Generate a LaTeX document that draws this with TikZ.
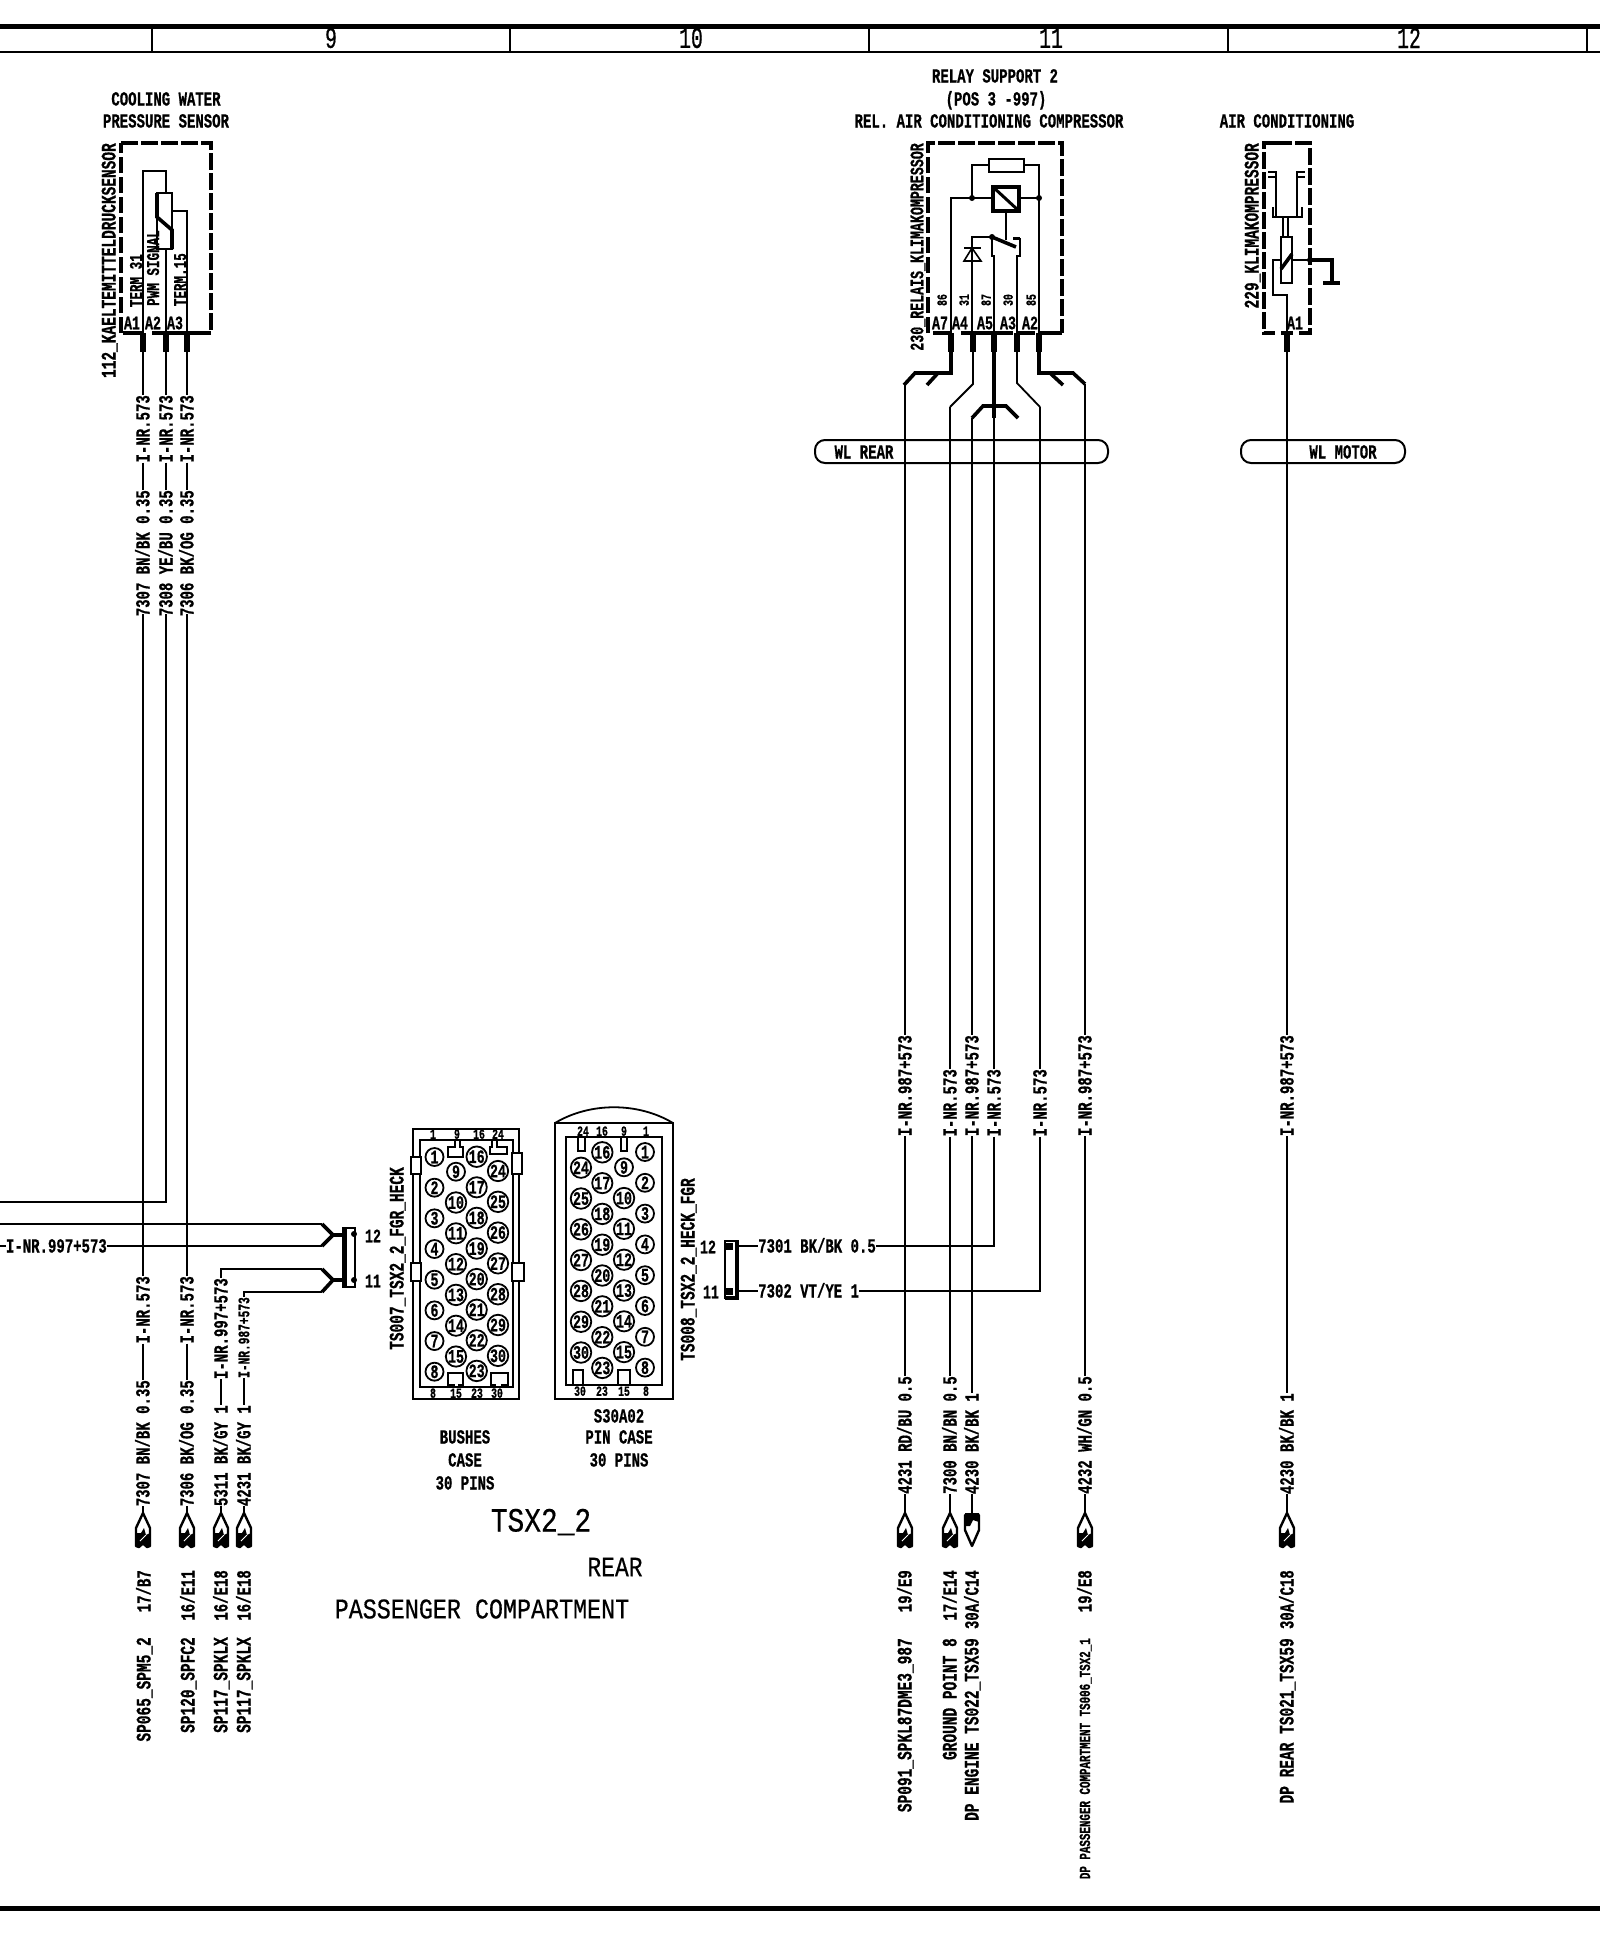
\documentclass[tikz,border=0pt]{standalone}
\usepackage{fontspec}
\usetikzlibrary{calc}
\newfontfamily\fb{Liberation Mono}[FakeStretch=0.70,BoldFeatures={FakeBold=0.7}]
\newfontfamily\ft{Liberation Mono}[FakeStretch=0.66,FakeBold=0.6]
\newfontfamily\ftw{Liberation Mono}[FakeStretch=0.82,FakeBold=0.4]
\newcommand\fz[1]{\fontsize{#1}{#1}\selectfont}
\tikzset{
 W/.style={line width=1.8pt,line join=miter},
 TH/.style={line width=3.6pt,line join=miter},
 PN/.style={line width=5.5pt},
 FR/.style={line width=3.6pt,dash pattern=on 16.5pt off 3.5pt},
 T/.style={font=\fb\bfseries\fz{20},inner sep=0pt,text height=13pt,text depth=0pt},
 Ta/.style={font=\fb\bfseries\fz{19},inner sep=0pt,text height=12.5pt,text depth=0pt},
 Ts/.style={font=\fb\bfseries\fz{18},inner sep=0pt,text height=12pt,text depth=0pt},
 Tn/.style={font=\fb\bfseries\fz{14},inner sep=0pt,text height=9.5pt,text depth=0pt},
 R/.style={T,rotate=90,anchor=east},
 Rl/.style={font=\fb\bfseries\fz{20.7},inner sep=0pt,text height=13pt,text depth=0pt,rotate=90,anchor=east},
 Rs/.style={Ts,rotate=90,anchor=east},
 Rn/.style={Tn,rotate=90},
 Rv/.style={font=\fb\bfseries\fz{16},inner sep=0pt,text height=10.5pt,text depth=0pt,rotate=90,anchor=east},
 Rd/.style={font=\fb\bfseries\fz{15.5},inner sep=0pt,text height=10pt,text depth=0pt,rotate=90,anchor=east},
 H/.style={T,anchor=west},
 CN/.style={font=\ft\fz{30},inner sep=0pt},
 PC/.style={draw,circle,line width=1.8pt,minimum size=18pt,inner sep=0pt,font=\fb\bfseries\fz{19}},
}
\newcommand\VW[8]{%
 \coordinate (#1s) at (#2,#3); \coordinate (#1e) at (#2,#8);
 \node[R] (#1a) at (#2,#4) {#5};
 \node[R] (#1b) at (#2,#6) {#7};
 \draw[W] (#1s)--(#1a.east) (#1a.west)--(#1b.east) (#1b.west)--(#1e);}
\newcommand\TU[2]{\begin{scope}[shift={(#2,0)}]
 \coordinate (#1) at (0,1513);
 \draw[line width=2.4pt,line join=round] (0,1513)--(7,1528)--(7,1546)--(4,1547)--(0,1543)--(-4,1547)--(-7,1546)--(-7,1528)--cycle;
 \fill (-7,1533)--(-2,1533)--(1,1528)--(3,1535)--(7,1533)--(7,1546)--(4,1548)--(0,1545)--(-4,1548)--(-7,1546)--cycle;
 \draw[white,line width=1pt] (-3,1541)--(3,1535);
 \end{scope}}
\newcommand\TD[2]{\begin{scope}[shift={(#2,0)}]
 \coordinate (#1) at (0,1513);
 \draw[line width=2.4pt,line join=round] (0,1546)--(7,1530)--(7,1515)--(-7,1515)--(-7,1530)--cycle;
 \fill (-7,1513)--(7,1513)--(7,1522)--(1,1520)--(-2,1526)--(-7,1526)--cycle;
 \end{scope}}
\begin{document}
\begin{tikzpicture}[x=1pt,y=-1pt]
\useasboundingbox (0,0) rectangle (1600,1936);
%% frame
\draw[line width=5pt] (0,26)--(1600,26);
\draw[W] (0,52)--(1600,52);
\foreach \xx in {152,510,869,1228,1587}{\draw[W] (\xx,26)--(\xx,52);}
\node[CN] (c9) at (331,38) {9};
\node[CN] (c10) at (691,38) {10};
\node[CN] (c11) at (1051,38) {11};
\node[CN] (c12) at (1409,38) {12};
\draw[line width=5pt] (0,1908)--(1600,1908);

%% cooling water sensor
\node[T] (s1t1) at (166,99) {COOLING WATER};
\node[T] (s1t2) at (166,121) {PRESSURE SENSOR};
\draw[FR] (121,143)--(211,143)--(211,333)--(205,333);
\draw[FR] (121,333)--(121,143);
\draw[TH] (123,333)--(144,333) (152,333)--(205,333);
\node[Rl] (s1n) at (109,143) {112\_KAELTEMITTELDRUCKSENSOR};
\node[Rs] (s1a) at (136,254) {TERM 31};
\node[Rs] (s1b) at (153,230) {PWM SIGNAL};
\node[Rs] (s1c) at (180,253) {TERM.15};
\node[Ta] (s1A1) at (132,323) {A1};
\node[Ta] (s1A2) at (153,323) {A2};
\node[Ta] (s1A3) at (175,323) {A3};
\draw[W] (143,333)--(143,171)--(166,171)--(166,193);
\draw[W] (157,193) rectangle (172,249);
\draw[TH] (157,193)--(157,217)--(172,230)--(172,249);
\draw[W] (166,249)--(166,333);
\draw[W] (172,211)--(187,211)--(187,333);
\foreach \xx in {143,166,187}{\draw[PN] (\xx,333)--(\xx,352);}
\VW{a1}{143}{352}{395}{I-NR.573}{490}{7307 BN/BK 0.35}{614}
\VW{b1}{166}{352}{395}{I-NR.573}{490}{7308 YE/BU 0.35}{614}
\VW{c1}{187}{352}{395}{I-NR.573}{490}{7306 BK/OG 0.35}{614}
\VW{a2}{143}{614}{1276}{I-NR.573}{1380}{7307 BN/BK 0.35}{1513}
\VW{c2}{187}{614}{1276}{I-NR.573}{1380}{7306 BK/OG 0.35}{1513}
\coordinate (b2) at (0,1202);
\draw[W] (b1e)--(166,1202)--(b2);

%% connector TS007 wiring
\coordinate (k12) at (343,1235);
\coordinate (k11) at (343,1280);
\node[T,anchor=east] (w997) at (107,1246) {I-NR.997+573};
\coordinate (w0a) at (0,1224);
\coordinate (w0b) at (0,1246);
\draw[W] (w0a)--(322,1224);
\draw[W] (w0b)--(w997.west) (w997.east)--(322,1246);
\draw[TH] (322,1224)--(333,1235)--(322,1246);
\draw[TH] (333,1235)--(k12);
\draw[TH] (322,1269)--(333,1280)--(322,1292);
\draw[TH] (333,1280)--(k11);
\node[R] (d1) at (221,1278) {I-NR.997+573};
\node[Rv] (e1) at (244,1297) {I-NR.987+573};
\node[R] (d2) at (221,1405) {5311 BK/GY 1};
\node[R] (e2) at (244,1405) {4231 BK/GY 1};
\coordinate (dt) at (221,1513);
\coordinate (et) at (244,1513);
\draw[W] (322,1269)--(221,1269)--(d1.east) (d1.west)--(d2.east) (d2.west)--(dt);
\draw[W] (322,1292)--(244,1292)--(e1.east) (e1.west)--(e2.east) (e2.west)--(et);
\draw[W] (343,1228) rectangle (355,1287);
\draw[line width=4.5pt] (345,1228)--(345,1287);
\fill (354,1234) circle (3pt) (354,1280) circle (3pt);
\node[Ta] (n12a) at (373,1236) {12};
\node[Ta] (n11a) at (373,1281) {11};

%% terminals lower left
\TU{t1}{143}\TU{t2}{187}\TU{t3}{221}\TU{t4}{244}
\node[R] (l1a) at (144,1570) {17/B7};
\node[Rl] (l1b) at (144,1637) {SP065\_SPM5\_2};
\node[R] (l2a) at (188,1570) {16/E11};
\node[Rl] (l2b) at (188,1637) {SP120\_SPFC2};
\node[R] (l3a) at (221,1570) {16/E18};
\node[Rl] (l3b) at (221,1637) {SP117\_SPKLX};
\node[R] (l4a) at (244,1570) {16/E18};
\node[Rl] (l4b) at (244,1637) {SP117\_SPKLX};

%% TS007 connector
\node[Rl] (ts7) at (397,1167) {TS007\_TSX2\_2\_FGR\_HECK};
\begin{scope}[line width=1.8pt]
\draw (413,1129) rectangle (519,1399);
\draw (420,1140) rectangle (513,1387);
\draw[fill=white] (411,1157) rectangle (421,1174);
\draw[fill=white] (411,1263) rectangle (421,1281);
\draw[fill=white] (512,1153) rectangle (522,1174);
\draw[fill=white] (512,1263) rectangle (524,1281);
\draw (455,1140)--(455,1147)--(448,1147)--(448,1157)--(463,1157)--(463,1147)--(460,1147)--(460,1140);
\draw (492,1140)--(492,1147)--(490,1147)--(490,1154)--(507,1154)--(507,1147)--(497,1147)--(497,1140);
\draw (454,1387)--(454,1385)--(448,1385)--(448,1373)--(463,1373)--(463,1385)--(459,1385)--(459,1387);
\draw (495,1387)--(495,1385)--(491,1385)--(491,1373)--(508,1373)--(508,1385)--(502,1385)--(502,1387);
\end{scope}
\foreach \n [count=\i from 0] in {1,...,8}{\node[PC] (a\n) at (434.5,{1157+30.67*\i}) {\n};}
\foreach \n [count=\i from 0] in {9,...,15}{\node[PC] (a\n) at (456,{1171.7+30.8*\i}) {\n};}
\foreach \n [count=\i from 0] in {16,...,23}{\node[PC] (a\n) at (476.7,{1156.7+30.6*\i}) {\n};}
\foreach \n [count=\i from 0] in {24,...,30}{\node[PC] (a\n) at (498,{1171+30.8*\i}) {\n};}
\node[Tn] (ta1) at (433,1134) {1};
\node[Tn] (ta9) at (457,1134) {9};
\node[Tn] (ta16) at (479,1134) {16};
\node[Tn] (ta24) at (498,1134) {24};
\node[Tn] (ba8) at (433,1393) {8};
\node[Tn] (ba15) at (456,1393) {15};
\node[Tn] (ba23) at (477,1393) {23};
\node[Tn] (ba30) at (497,1393) {30};
\node[T] (bu1) at (465,1437) {BUSHES};
\node[T] (bu2) at (465,1460) {CASE};
\node[T] (bu3) at (465,1483) {30 PINS};

%% TS008 connector
\node[Rl] (ts8) at (688,1178) {TS008\_TSX2\_2\_HECK\_FGR};
\begin{scope}[line width=1.8pt]
\draw (555,1123) rectangle (673,1399);
\draw (555,1123) .. controls (590,1102) and (638,1102) .. (673,1123);
\draw (566,1137) rectangle (662,1385);
\draw (578,1137)--(578,1151)--(585,1151)--(585,1137);
\draw (621,1137)--(621,1151)--(627,1151)--(627,1137);
\draw (573,1385)--(573,1370)--(583,1370)--(583,1385);
\draw (618,1385)--(618,1370)--(630,1370)--(630,1385);
\end{scope}
\foreach \n [count=\i from 0] in {1,...,8}{\node[PC] (b\n) at (645,{1152+30.8*\i}) {\n};}
\foreach \n [count=\i from 0] in {9,...,15}{\node[PC] (b\n) at (624,{1167.3+30.8*\i}) {\n};}
\foreach \n [count=\i from 0] in {16,...,23}{\node[PC] (b\n) at (602.3,{1152.3+30.8*\i}) {\n};}
\foreach \n [count=\i from 0] in {24,...,30}{\node[PC] (b\n) at (581,{1167.7+30.8*\i}) {\n};}
\node[Tn] (tb24) at (583,1131) {24};
\node[Tn] (tb16) at (602,1131) {16};
\node[Tn] (tb9) at (624,1131) {9};
\node[Tn] (tb1) at (646,1131) {1};
\node[Tn] (bb30) at (580,1391) {30};
\node[Tn] (bb23) at (602,1391) {23};
\node[Tn] (bb15) at (624,1391) {15};
\node[Tn] (bb8) at (646,1391) {8};
\node[T] (pi0) at (619,1416) {S30A02};
\node[T] (pi1) at (619,1437) {PIN CASE};
\node[T] (pi2) at (619,1460) {30 PINS};
\node[font=\ftw\fz{34},inner sep=0pt] (tsx) at (541,1522) {TSX2\_2};
\node[font=\ftw\fz{28},inner sep=0pt] (rear) at (615,1567) {REAR};
\node[font=\ftw\fz{28.5},inner sep=0pt] (pass) at (482,1609) {PASSENGER COMPARTMENT};

%% connector right of TS008
\node[Ta] (n12b) at (708,1247) {12};
\node[Ta] (n11b) at (711,1292) {11};
\draw[W] (725,1241) rectangle (738,1298);
\draw[line width=3.6pt] (737,1241)--(737,1298)--(725,1298);
\fill (725,1243) rectangle (733,1250);
\fill (725,1288) rectangle (733,1295);
\node[H] (w7301) at (758,1246) {7301 BK/BK 0.5};
\node[H] (w7302) at (758,1291) {7302 VT/YE 1};
\draw[W] (738,1246)--(w7301.west) (738,1291)--(w7302.west);

%% relay
\node[T] (r1) at (995,76) {RELAY SUPPORT 2};
\node[T] (r2) at (996,99) {(POS 3 -997)};
\node[T] (r3) at (989,121) {REL. AIR CONDITIONING COMPRESSOR};
\draw[FR] (928,333)--(928,143)--(1062,143)--(1062,333);
\draw[TH] (933,333)--(951,333) (961,333)--(1013,333) (1017,333)--(1035,333) (1039,333)--(1062,333);
\node[font=\fb\bfseries\fz{19},inner sep=0pt,text height=12.5pt,text depth=0pt,rotate=90,anchor=east] (rn) at (917,143) {230\_RELAIS\_KLIMAKOMPRESSOR};
\node[Ta] (rA7) at (940,323) {A7};
\node[Ta] (rA4) at (960,323) {A4};
\node[Ta] (rA5) at (985,323) {A5};
\node[Ta] (rA3) at (1008,323) {A3};
\node[Ta] (rA2) at (1030,323) {A2};
\node[Rn] (r86) at (942,300) {86};
\node[Rn] (r31) at (964,300) {31};
\node[Rn] (r87) at (986,300) {87};
\node[Rn] (r30) at (1008,300) {30};
\node[Rn] (r85) at (1031,300) {85};
\draw[W] (989,159) rectangle (1024,172);
\draw[W] (989,165)--(972,165)--(972,198);
\draw[W] (1024,165)--(1039,165)--(1039,333);
\draw[W] (951,333)--(951,198)--(993,198);
\draw[W] (1019,198)--(1039,198);
\fill (972,198) circle (3pt) (1039,198) circle (3pt);
\draw[line width=3.6pt] (993,187) rectangle (1019,211);
\draw[line width=3pt] (993,187)--(1019,211);
\draw[W] (1006,212)--(1006,240);
\draw[W] (992,237)--(972,237)--(972,333);
\draw[line width=1.6pt] (964,261)--(981,261)--(972,248)--cycle;
\draw[W] (964,248)--(981,248);
\draw[line width=3.6pt] (992,237)--(1016,247);
\fill (992,237) circle (3pt);
\draw[line width=3pt] (1013,238)--(1020,238);
\draw[W] (1020,238)--(1020,256)--(1017,256)--(1017,333);
\draw[W] (992,237)--(992,256)--(994,256)--(994,333);
\foreach \xx in {951,973,994,1017,1039}{\draw[PN] (\xx,333)--(\xx,352);}
\draw[TH] (951,352)--(951,373)--(915,373)--(904,385);
\draw[TH] (938,373)--(927,385);
\draw[W] (973,352)--(973,384)--(950,407);
\draw[TH] (994,333)--(994,418);
\draw[TH] (972,418)--(983,406)--(1006,406)--(1018,418);
\draw[W] (1017,352)--(1017,383)--(1040,407);
\draw[TH] (1039,352)--(1039,373)--(1073,373)--(1085,384);
\draw[TH] (1050,373)--(1063,385);

\draw[line width=2pt,rounded corners=10pt] (815,440) rectangle (1108,463);
\node[T] (wlr) at (864,452) {WL REAR};
\draw[line width=2pt,rounded corners=10pt] (1241,440) rectangle (1405,463);
\node[T] (wlm) at (1343,452) {WL MOTOR};

\VW{f}{905}{385}{1035}{I-NR.987+573}{1376}{4231 RD/BU 0.5}{1513}
\VW{g}{950}{407}{1069}{I-NR.573}{1376}{7300 BN/BN 0.5}{1513}
\VW{h}{972}{418}{1035}{I-NR.987+573}{1393}{4230 BK/BK 1}{1513}
\VW{m}{1085}{384}{1035}{I-NR.987+573}{1376}{4232 WH/GN 0.5}{1513}
\VW{n}{1287}{352}{1035}{I-NR.987+573}{1393}{4230 BK/BK 1}{1513}
\node[R] (j) at (994,1069) {I-NR.573};
\node[R] (k) at (1040,1069) {I-NR.573};
\draw[W] (994,418)--(j.east) (j.west)--(994,1246)--(w7301.east);
\draw[W] (1040,407)--(k.east) (k.west)--(1040,1291)--(w7302.east);
\TU{t5}{905}\TU{t6}{950}\TD{t7}{972}\TU{t8}{1085}\TU{t9}{1287}
\node[R] (l5a) at (905,1570) {19/E9};
\node[Rl] (l5b) at (905,1638) {SP091\_SPKL87DME3\_987};
\node[R] (l6a) at (950,1570) {17/E14};
\node[Rl] (l6b) at (950,1638) {GROUND POINT 8};
\node[R] (l7a) at (972,1570) {30A/C14};
\node[Rl] (l7b) at (972,1638) {DP ENGINE TS022\_TSX59};
\node[R] (l8a) at (1085,1570) {19/E8};
\node[Rd] (l8b) at (1085,1638) {DP PASSENGER COMPARTMENT TS006\_TSX2\_1};
\node[R] (l9a) at (1287,1570) {30A/C18};
\node[Rl] (l9b) at (1287,1638) {DP REAR TS021\_TSX59};

%% compressor
\node[T] (ac) at (1287,121) {AIR CONDITIONING};
\draw[FR] (1275,143)--(1264,143)--(1264,333)--(1275,333);
\draw[FR] (1275,143)--(1310,143)--(1310,333)--(1296,333);
\draw[TH] (1281,333)--(1293,333);
\node[Rl] (acn) at (1252,143) {229\_KLIMAKOMPRESSOR};
\draw[W] (1276,172)--(1276,217) (1297,172)--(1297,217);
\draw[line width=2.6pt] (1268,172)--(1277,172) (1296,172)--(1305,172);
\draw[line width=1.2pt] (1268,177)--(1277,177) (1296,177)--(1305,177);
\draw[W] (1273,207)--(1273,217)--(1302,217)--(1302,207);
\draw[W] (1283,217)--(1283,237) (1288,217)--(1288,237);
\draw[W] (1281,237) rectangle (1292,283);
\draw[TH] (1281,269)--(1292,254);
\draw[W] (1281,260)--(1273,260)--(1273,295)--(1287,295)--(1287,333);
\draw[W] (1292,260)--(1310,260);
\fill (1310,260) circle (3pt);
\draw[TH] (1310,260)--(1332,260)--(1332,283);
\draw[TH] (1323,283)--(1340,283);
\node[Ta] (acA1) at (1295,323) {A1};
\draw[PN] (1287,333)--(1287,352);
\end{tikzpicture}
\end{document}
